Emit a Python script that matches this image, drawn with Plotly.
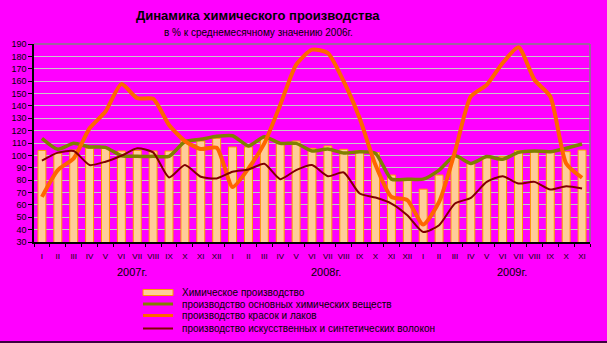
import plotly.graph_objects as go

months = ["I", "II", "III", "IV", "V", "VI", "VII", "VIII", "IX", "X", "XI", "XII"]
tick_labels = months + months + months[:11]
x_idx = list(range(len(tick_labels)))

chem_total = [104, 101.6, 104.3, 105.7, 105.7, 103.5, 104, 103.5, 103.5, 112.2, 111.6, 113.8,
              106.8, 106.8, 113.8, 109.7, 111.6, 105.7, 107.6, 104.9, 103.8, 102.2, 84.1, 80,
              72.7, 84.1, 99, 93.5, 98.1, 99, 103.8, 103, 103, 103, 104.3]
basic_chem = [113.8, 104.9, 109.7, 106.8, 106.5, 99.7, 99.2, 99.2, 99.2, 111.1, 113, 115.4,
              115.9, 107.6, 115.1, 109.7, 109.7, 103.5, 105.1, 101.9, 102.9, 101.6, 80.8, 80.8,
              80.8, 88.1, 99.7, 93.5, 99, 96.8, 102.4, 103.5, 103, 105.7, 109.2]
paints = [66.5, 88.1, 97.6, 121.9, 135.4, 157.6, 146.2, 145.7, 124.6, 111.6, 105.1, 106.2,
          74.5, 89.5, 109.7, 140.8, 173.2, 185.4, 182.7, 159.7, 130, 92.2, 66.5, 63.8,
          44.1, 62.4, 103, 147.6, 157, 174.6, 187.3, 161.1, 147.6, 93.5, 81.9]
fibers = [95.7, 102.2, 103.5, 92.2, 94.9, 99.7, 105.7, 102.4, 82.2, 92.2, 82.7, 81.4,
          86.8, 88.6, 93.2, 80.8, 88.1, 92.2, 83.2, 86.2, 69.2, 65.9, 61.1, 51.6,
          38.1, 43.5, 61.1, 65.7, 78.6, 83.2, 77.3, 78.6, 72.4, 75.1, 73.2]

years = ["2007г.", "2008г.", "2009г."]
year_pos = [5.7, 17.9, 29.6]

series_names = ["Химическое производство",
                "производство основных химических веществ",
                "производство красок и лаков",
                "производство искусственных и синтетических волокон"]

FONT = "Liberation Sans"
BG = "#FF00FF"

fig = go.Figure()
fig.add_trace(go.Bar(x=x_idx, y=chem_total, width=0.5, name=series_names[0],
                     marker=dict(color="#FFCC99", line=dict(color="#FF9900", width=1)),
                     showlegend=False))
fig.add_trace(go.Scatter(x=x_idx, y=basic_chem, mode="lines", name=series_names[1],
                         line=dict(color="#808000", width=3.5, shape="spline", smoothing=0.6),
                         showlegend=False))
fig.add_trace(go.Scatter(x=x_idx, y=paints, mode="lines", name=series_names[2],
                         line=dict(color="#FF6600", width=4, shape="spline", smoothing=0.6),
                         showlegend=False))
fig.add_trace(go.Scatter(x=x_idx, y=fibers, mode="lines", name=series_names[3],
                         line=dict(color="#800000", width=2, shape="spline", smoothing=0.6),
                         showlegend=False))

fig.update_layout(
    width=607, height=343,
    margin=dict(l=34, r=17, t=44, b=101),
    paper_bgcolor=BG, plot_bgcolor=BG,
    font=dict(family=FONT, size=9, color="black"),
    bargap=0.5,
)
fig.update_xaxes(range=[-0.5, 34.5], tickmode="array", tickvals=x_idx, ticktext=tick_labels,
                 ticks="", showgrid=False, zeroline=False,
                 showline=True, linecolor="black", linewidth=1.5,
                 tickfont=dict(size=8, family=FONT), ticklabelstandoff=6,
                 minor=dict(tickmode="linear", tick0=0.5, dtick=1, ticks="outside",
                            ticklen=3, tickcolor="black", showgrid=False))
fig.update_yaxes(range=[30, 190], tickmode="linear", tick0=30, dtick=10,
                 showgrid=True, gridcolor="#C8C8C8", gridwidth=1, zeroline=False,
                 showline=True, linecolor="black", linewidth=1.5,
                 ticks="outside", ticklen=4, tickcolor="black",
                 tickfont=dict(size=9, family=FONT))

# plot-area border (top & right) in gray
fig.add_shape(type="line", xref="paper", yref="paper", x0=0, x1=1, y0=1, y1=1,
              line=dict(color="#808080", width=1.5))
fig.add_shape(type="line", xref="paper", yref="paper", x0=1, x1=1, y0=0, y1=1,
              line=dict(color="#808080", width=1.5))

annotations = [
    dict(text="<b>Динамика химического производства</b>", x=258 / 607, y=15 / 343,
         font=dict(size=13, family=FONT)),
    dict(text="в % к среднемесячному значению 2006г.", x=258 / 607, y=32 / 343,
         font=dict(size=10, family=FONT)),
]
for a in annotations:
    a.update(xref="paper", yref="paper", showarrow=False, xanchor="center", yanchor="middle")
    a["x"] = (a["x"] * 607 - 34) / 556
    a["y"] = (242 - a["y"] * 343) / 198
    fig.add_annotation(**a)

for yr, pos in zip(years, year_pos):
    fig.add_annotation(text=yr, x=pos, xref="x", y=(242 - 272) / 198, yref="paper",
                       showarrow=False, xanchor="center", yanchor="middle",
                       font=dict(size=11, family=FONT))

# legend
row_px = [292.5, 304, 315.5, 328.5]
sw_x0, sw_x1, txt_x = (143 - 34) / 556, (173 - 34) / 556, (180 - 34) / 556
legend_styles = [("bar", "#FFCC99", "#FF9900", 0), ("line", "#808000", None, 3),
                 ("line", "#FF6600", None, 3), ("line", "#800000", None, 2)]
for name, yp, st in zip(series_names, row_px, legend_styles):
    yy = (242 - yp) / 198
    if st[0] == "bar":
        fig.add_shape(type="rect", xref="paper", yref="paper", x0=sw_x0, x1=sw_x1,
                      y0=yy - 3 / 198, y1=yy + 3 / 198, fillcolor=st[1],
                      line=dict(color=st[2], width=1))
    else:
        fig.add_shape(type="line", xref="paper", yref="paper", x0=sw_x0, x1=sw_x1,
                      y0=yy, y1=yy, line=dict(color=st[1], width=st[3]))
    fig.add_annotation(text=name, x=txt_x, y=yy, xref="paper", yref="paper",
                       showarrow=False, xanchor="left", yanchor="middle",
                       font=dict(size=10, family=FONT))

fig.add_shape(type="line", xref="paper", yref="paper", x0=-34 / 556, x1=573 / 556,
              y0=(242 - 342) / 198, y1=(242 - 342) / 198, line=dict(color="black", width=1.5))

fig.write_html("out.html")
